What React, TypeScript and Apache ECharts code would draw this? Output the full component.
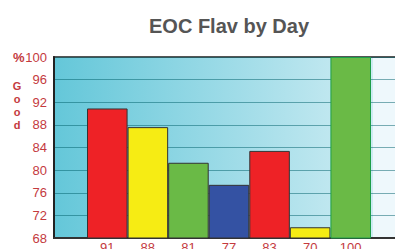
import React, { useEffect, useRef } from "react";
import * as echarts from "echarts";

const categories = ["91", "88", "81", "77", "83", "70", "100"];
const values = [90.9, 87.6, 81.3, 77.4, 83.4, 69.9, 100];
const barColors = ["#ee2226", "#f6ec14", "#6aba46", "#3452a3", "#ee2226", "#f6ec14", "#6aba46"];
const barBorders = ["#333333", "#333333", "#333333", "#333333", "#333333", "#333333", "#1d9e48"];
const yMin = 68;
const yMax = 100;
const yStep = 4;
const yTitleLetters = ["G", "o", "o", "d"];

const labelRed = "#c43a3e";
const font = "Liberation Sans, Arial, sans-serif";

export default function App() {
  const ref = useRef<HTMLDivElement>(null);
  useEffect(() => {
    document.body.style.margin = "0";
    const chart = echarts.init(ref.current!, null, { renderer: "svg" });
    chart.setOption({
      animation: false,
      title: {
        text: "EOC Flav by Day",
        left: 144,
        top: 11,
        textStyle: { fontFamily: font, fontSize: 20, fontWeight: "bold", color: "#555555" },
      },
      graphic: [
        {
          type: "text",
          left: 13,
          top: 51,
          style: { text: "%", fontFamily: font, fontSize: 13, fontWeight: "bold", fill: labelRed },
        },
        ...yTitleLetters.map((ch, i) => ({
          type: "text",
          x: 17,
          y: 86 + i * 13,
          style: {
            text: ch,
            fontFamily: font,
            fontSize: 11,
            fontWeight: "bold",
            fill: labelRed,
            align: "center",
            verticalAlign: "middle",
          },
        })),
      ],
      grid: [
        {
          left: 54,
          right: -14,
          top: 57,
          bottom: 11,
          outerBoundsMode: "none",
          containLabel: false,
          show: true,
          borderWidth: 2,
          borderColor: "#555555",
          backgroundColor: new echarts.graphic.LinearGradient(0, 0, 1, 0, [
            { offset: 0, color: "#64c7d9" },
            { offset: 0.9, color: "#cdecf3" },
            { offset: 0.9, color: "#eef8fc" },
            { offset: 1, color: "#eef8fc" },
          ]),
        },
        { left: 87, right: 24, top: 57, bottom: 11, outerBoundsMode: "none", containLabel: false },
      ],
      xAxis: [
        {
          gridIndex: 0,
          type: "value",
          min: 0,
          max: 1,
          axisLine: { show: true, lineStyle: { color: "#333333", width: 2 } },
          axisTick: { show: false },
          axisLabel: { show: false },
          splitLine: { show: false },
        },
        {
          gridIndex: 1,
          type: "category",
          data: categories,
          boundaryGap: true,
          axisLine: { show: false },
          axisTick: { show: false },
          axisLabel: { color: labelRed, fontFamily: font, fontSize: 13, margin: 3 },
        },
      ],
      yAxis: [
        {
          gridIndex: 0,
          type: "value",
          min: yMin,
          max: yMax,
          interval: yStep,
          axisLine: { show: true, lineStyle: { color: "#222222", width: 2 } },
          axisTick: { show: false },
          axisLabel: { color: labelRed, fontFamily: font, fontSize: 13, margin: 7 },
          splitLine: { show: true, lineStyle: { color: "rgba(0,95,105,0.5)", width: 1 } },
        },
        { gridIndex: 1, type: "value", min: yMin, max: yMax, show: false },
      ],
      series: [
        {
          type: "bar",
          xAxisIndex: 1,
          yAxisIndex: 1,
          barCategoryGap: 0,
          data: values.map((v, i) => ({
            value: v,
            itemStyle: { color: barColors[i], borderColor: barBorders[i], borderWidth: 1 },
          })),
        },
      ],
    });
    return () => chart.dispose();
  }, []);
  return <div ref={ref} style={{ width: 395, height: 249 }} />;
}
